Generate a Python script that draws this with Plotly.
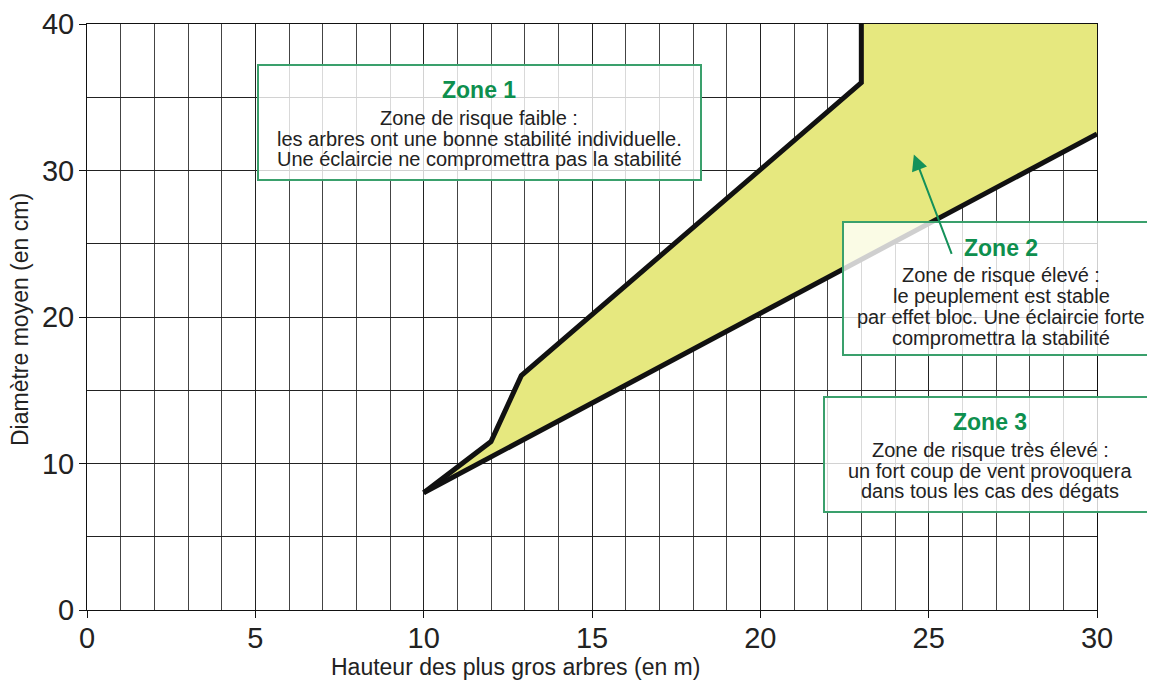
import plotly.graph_objects as go

# Boundary lines (x: tree height in m, y: mean diameter in cm)
upper_x = [10, 12, 12.9, 23, 23]
upper_y = [8, 11.5, 16, 36, 40]
lower_x = [10, 30]
lower_y = [8, 32.5]

x_ticks = [0, 5, 10, 15, 20, 25, 30]
y_ticks = [0, 10, 20, 30, 40]

x_title = "Hauteur des plus gros arbres (en m)"
y_title = "Diamètre moyen (en cm)"

zone_titles = ["Zone 1", "Zone 2", "Zone 3"]
zone_lines = [
    ["Zone de risque faible :",
     "les arbres ont une bonne stabilité individuelle.",
     "Une éclaircie ne compromettra pas la stabilité"],
    ["Zone de risque élevé :",
     "le peuplement est stable",
     "par effet bloc. Une éclaircie forte",
     "compromettra la stabilité"],
    ["Zone de risque très élevé :",
     "un fort coup de vent provoquera",
     "dans tous les cas des dégats"],
]

FONT = "Liberation Sans, Arial, Helvetica, sans-serif"
GREEN = "#0e8f4e"
BOX = "#3aa06c"
YELLOW = "#e6e87f"

# page body has an 8px margin; plot area in the target is x 87..1097, y 24..610
OFF = 8
W, H = 1155, 681
L, T = 87 - OFF, 24 - OFF
PW, PH = 1010, 586
R = W - L - PW
B = H - T - PH


def px(x):
    return (x - 87) / PW


def py(y):
    return (610 - y) / PH


fig = go.Figure()

fill_x = upper_x + [30] + lower_x[::-1]
fill_y = upper_y + [40] + lower_y[::-1]
fig.add_trace(go.Scatter(x=fill_x, y=fill_y, fill="toself", fillcolor=YELLOW,
                         mode="none", hoverinfo="skip", showlegend=False))
fig.add_trace(go.Scatter(x=upper_x, y=upper_y, mode="lines",
                         line=dict(color="#111111", width=5), showlegend=False))
fig.add_trace(go.Scatter(x=lower_x, y=lower_y, mode="lines",
                         line=dict(color="#111111", width=5), showlegend=False))

fig.update_xaxes(range=[0, 30], tickvals=x_ticks, showgrid=True, gridcolor="#222222", gridwidth=1,
                 minor=dict(dtick=1, showgrid=True, gridcolor="#444444", gridwidth=1),
                 ticks="outside", ticklen=7, tickcolor="#111", showline=True, linecolor="#111",
                 linewidth=1, mirror=True, zeroline=False, automargin=False,
                 ticklabelstandoff=-5,
                 tickfont=dict(family=FONT, size=29, color="#222"))
fig.update_yaxes(range=[0, 40], tickvals=y_ticks, showgrid=True, gridcolor="#222222", gridwidth=1,
                 minor=dict(dtick=5, showgrid=True, gridcolor="#222222", gridwidth=1),
                 ticks="outside", ticklen=7, tickcolor="#111", showline=True, linecolor="#111",
                 linewidth=1, mirror=True, zeroline=False, automargin=False,
                 ticklabelstandoff=-1,
                 tickfont=dict(family=FONT, size=29, color="#222"))

# Axis titles (placed as in the target)
fig.add_annotation(xref="paper", yref="paper", x=px(515), y=py(667), text=x_title,
                   xanchor="center", yanchor="middle", showarrow=False,
                   font=dict(family=FONT, size=23, color="#222"))
fig.add_annotation(xref="paper", yref="paper", x=px(20), y=py(320), text=y_title, textangle=-90,
                   xanchor="center", yanchor="middle", showarrow=False,
                   font=dict(family=FONT, size=23, color="#222"))

# Boxes (target pixel extents -> paper coords)
boxes = [(258, 701, 65, 180), (843, 1170, 222, 355), (824, 1153, 397, 512)]
for (x0, x1, y0, y1) in boxes:
    fig.add_shape(type="rect", xref="paper", yref="paper", x0=px(x0), x1=px(x1), y0=py(y1), y1=py(y0),
                  fillcolor="rgba(255,255,255,0.8)", line=dict(color=BOX, width=2), layer="above")

title_pos = [(479, 90), (1001, 248), (990, 422)]
line_pos = [(479, [118, 139, 159]), (1001, [275, 296, 317, 338]), (990, [450, 471, 491])]
for t, lines, tp, lp in zip(zone_titles, zone_lines, title_pos, line_pos):
    fig.add_annotation(xref="paper", yref="paper", x=px(tp[0]), y=py(tp[1]), text="<b>" + t + "</b>",
                       xanchor="center", yanchor="middle",
                       showarrow=False, font=dict(family=FONT, size=23, color=GREEN))
    for line, yy in zip(lines, lp[1]):
        fig.add_annotation(xref="paper", yref="paper", x=px(lp[0]), y=py(yy), text=line,
                           xanchor="center", yanchor="middle",
                           showarrow=False, font=dict(family=FONT, size=20, color="#222"))

# Arrow pointing into zone 2
fig.add_annotation(x=24.56, y=31.1, ax=25.7, ay=24.2, xref="x", yref="y", axref="x", ayref="y",
                   text="", showarrow=True, arrowhead=2, arrowsize=1.6, arrowwidth=2,
                   arrowcolor="#14915a")

fig.update_layout(width=W, height=H, margin=dict(l=L, r=R, t=T, b=B),
                  plot_bgcolor="white", paper_bgcolor="white")

fig.write_html("out.html")
